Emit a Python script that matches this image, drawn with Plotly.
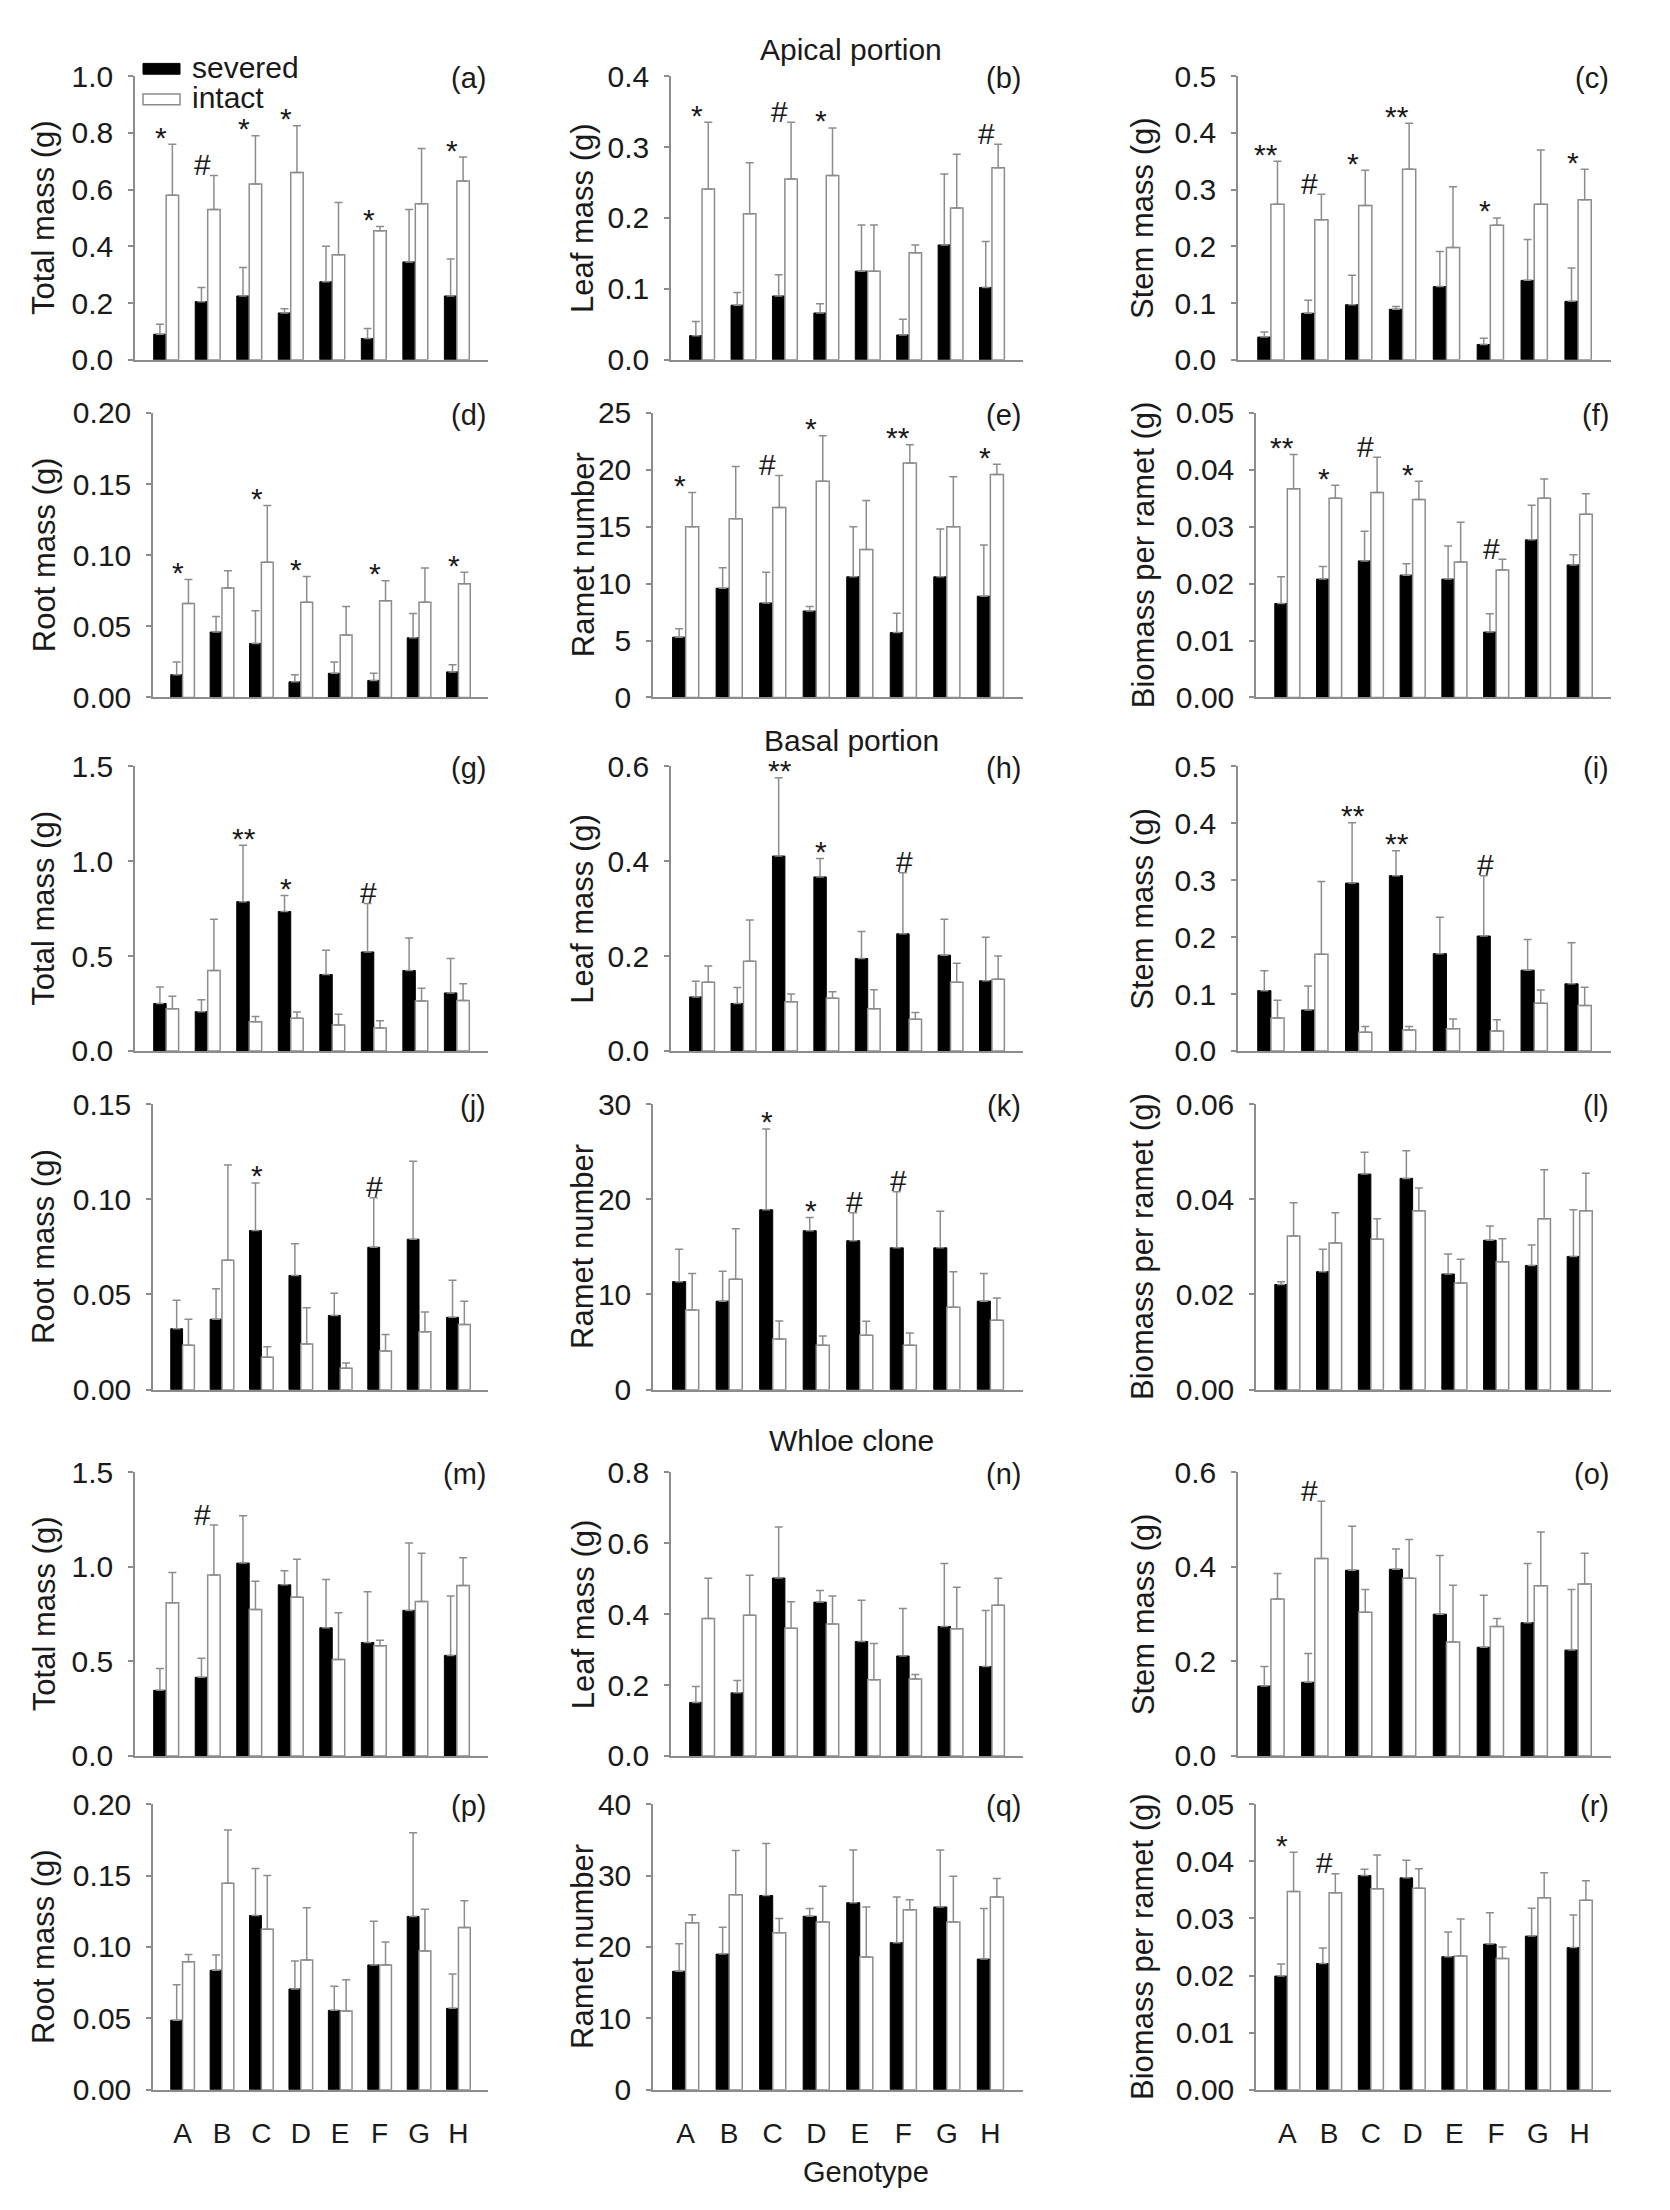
import plotly.graph_objects as go

W, H = 1670, 2210

genotypes = ["A", "B", "C", "D", "E", "F", "G", "H"]

# ---------- Apical portion ----------
a_sev = [0.09, 0.205, 0.225, 0.165, 0.275, 0.075, 0.345, 0.225]
a_sev_err = [0.035, 0.05, 0.10, 0.015, 0.125, 0.035, 0.185, 0.13]
a_int = [0.58, 0.53, 0.62, 0.66, 0.37, 0.455, 0.55, 0.63]
a_int_err = [0.18, 0.12, 0.17, 0.165, 0.185, 0.015, 0.195, 0.085]
a_sig = ["*", "#", "*", "*", "", "*", "", "*"]

b_sev = [0.034, 0.077, 0.09, 0.066, 0.125, 0.035, 0.162, 0.102]
b_sev_err = [0.02, 0.018, 0.03, 0.013, 0.065, 0.022, 0.1, 0.065]
b_int = [0.241, 0.206, 0.255, 0.26, 0.125, 0.151, 0.214, 0.271]
b_int_err = [0.094, 0.072, 0.08, 0.067, 0.065, 0.011, 0.076, 0.033]
b_sig = ["*", "", "#", "*", "", "", "", "#"]

c_sev = [0.040, 0.082, 0.097, 0.089, 0.129, 0.027, 0.14, 0.103]
c_sev_err = [0.009, 0.023, 0.052, 0.005, 0.062, 0.011, 0.072, 0.059]
c_int = [0.274, 0.247, 0.272, 0.336, 0.198, 0.237, 0.274, 0.282]
c_int_err = [0.076, 0.045, 0.062, 0.081, 0.107, 0.013, 0.096, 0.054]
c_sig = ["**", "#", "*", "**", "", "*", "", "*"]

d_sev = [0.016, 0.046, 0.038, 0.011, 0.017, 0.012, 0.042, 0.018]
d_sev_err = [0.009, 0.011, 0.023, 0.005, 0.008, 0.005, 0.017, 0.005]
d_int = [0.066, 0.077, 0.095, 0.067, 0.044, 0.068, 0.067, 0.080]
d_int_err = [0.017, 0.012, 0.04, 0.018, 0.02, 0.014, 0.024, 0.008]
d_sig = ["*", "", "*", "*", "", "*", "", "*"]

e_sev = [5.3, 9.6, 8.3, 7.6, 10.6, 5.7, 10.6, 8.9]
e_sev_err = [0.75, 1.8, 2.7, 0.4, 4.4, 1.7, 4.2, 4.5]
e_int = [15.0, 15.7, 16.7, 19.0, 13.0, 20.6, 15.0, 19.6]
e_int_err = [3.0, 4.6, 2.8, 4.0, 4.3, 1.6, 4.4, 0.9]
e_sig = ["*", "", "#", "*", "", "**", "", "*"]

f_sev = [0.0165, 0.0208, 0.024, 0.0215, 0.0208, 0.0115, 0.0277, 0.0233]
f_sev_err = [0.0047, 0.0022, 0.0052, 0.002, 0.0058, 0.0032, 0.0061, 0.0018]
f_int = [0.0367, 0.035, 0.036, 0.0348, 0.0238, 0.0224, 0.035, 0.0322]
f_int_err = [0.006, 0.0023, 0.0062, 0.0032, 0.007, 0.0019, 0.0034, 0.0036]
f_sig = ["**", "*", "#", "*", "", "#", "", ""]

# ---------- Basal portion ----------
g_sev = [0.25, 0.207, 0.787, 0.735, 0.403, 0.522, 0.424, 0.306]
g_sev_err = [0.087, 0.063, 0.298, 0.085, 0.128, 0.255, 0.171, 0.182]
g_int = [0.223, 0.424, 0.154, 0.173, 0.137, 0.121, 0.263, 0.266]
g_int_err = [0.066, 0.271, 0.028, 0.033, 0.057, 0.038, 0.067, 0.089]
g_sig = ["", "", "**", "*", "", "#", "", ""]

h_sev = [0.114, 0.1, 0.411, 0.367, 0.195, 0.247, 0.202, 0.148]
h_sev_err = [0.033, 0.034, 0.165, 0.039, 0.057, 0.129, 0.076, 0.092]
h_int = [0.145, 0.189, 0.104, 0.111, 0.089, 0.067, 0.145, 0.151]
h_int_err = [0.034, 0.087, 0.016, 0.014, 0.04, 0.014, 0.04, 0.049]
h_sig = ["", "", "**", "*", "", "#", "", ""]

i_sev = [0.106, 0.072, 0.295, 0.308, 0.171, 0.202, 0.142, 0.118]
i_sev_err = [0.035, 0.042, 0.106, 0.044, 0.064, 0.106, 0.054, 0.072]
i_int = [0.058, 0.17, 0.033, 0.037, 0.039, 0.035, 0.084, 0.080]
i_int_err = [0.031, 0.128, 0.01, 0.006, 0.017, 0.02, 0.023, 0.032]
i_sig = ["", "", "**", "**", "", "#", "", ""]

j_sev = [0.032, 0.037, 0.0836, 0.06, 0.039, 0.0748, 0.079, 0.038]
j_sev_err = [0.015, 0.016, 0.025, 0.0167, 0.0117, 0.026, 0.041, 0.0195]
j_int = [0.0234, 0.068, 0.017, 0.024, 0.0112, 0.0203, 0.0304, 0.0342]
j_int_err = [0.0136, 0.05, 0.0055, 0.019, 0.0028, 0.0087, 0.0104, 0.0122]
j_sig = ["", "", "*", "", "", "#", "", ""]

k_sev = [11.35, 9.3, 18.9, 16.7, 15.65, 14.9, 14.9, 9.3]
k_sev_err = [3.4, 3.15, 8.5, 1.4, 2.95, 5.9, 3.85, 2.9]
k_int = [8.36, 11.6, 5.33, 4.68, 5.71, 4.68, 8.67, 7.29]
k_int_err = [3.84, 5.3, 1.89, 0.96, 1.48, 1.27, 3.71, 2.34]
k_sig = ["", "", "*", "*", "#", "#", "", ""]

l_sev = [0.0221, 0.0248, 0.0453, 0.0444, 0.0243, 0.0314, 0.0261, 0.028]
l_sev_err = [0.0006, 0.0047, 0.0046, 0.0058, 0.0042, 0.003, 0.0043, 0.0098]
l_int = [0.0323, 0.0308, 0.0316, 0.0376, 0.0224, 0.0269, 0.0359, 0.0376]
l_int_err = [0.007, 0.0064, 0.0043, 0.0048, 0.005, 0.0048, 0.0103, 0.0079]
l_sig = ["", "", "", "", "", "", "", ""]

# ---------- Whole clone ----------
m_sev = [0.347, 0.416, 1.02, 0.905, 0.678, 0.6, 0.77, 0.532]
m_sev_err = [0.116, 0.101, 0.25, 0.075, 0.255, 0.269, 0.357, 0.314]
m_int = [0.81, 0.957, 0.775, 0.839, 0.51, 0.583, 0.817, 0.902]
m_int_err = [0.161, 0.264, 0.149, 0.201, 0.248, 0.029, 0.255, 0.147]
m_sig = ["", "#", "", "", "", "", "", ""]

n_sev = [0.151, 0.178, 0.502, 0.434, 0.323, 0.282, 0.365, 0.252]
n_sev_err = [0.045, 0.035, 0.144, 0.033, 0.116, 0.134, 0.178, 0.158]
n_int = [0.388, 0.397, 0.36, 0.372, 0.215, 0.217, 0.359, 0.425]
n_int_err = [0.113, 0.113, 0.075, 0.079, 0.102, 0.013, 0.117, 0.076]
n_sig = ["", "", "", "", "", "", "", ""]

o_sev = [0.148, 0.156, 0.393, 0.395, 0.3, 0.23, 0.282, 0.224]
o_sev_err = [0.041, 0.061, 0.093, 0.043, 0.124, 0.11, 0.125, 0.128]
o_int = [0.332, 0.418, 0.304, 0.376, 0.241, 0.274, 0.36, 0.364]
o_int_err = [0.054, 0.121, 0.048, 0.082, 0.12, 0.017, 0.114, 0.065]
o_sig = ["", "#", "", "", "", "", "", ""]

p_sev = [0.0487, 0.0837, 0.122, 0.0706, 0.0556, 0.0874, 0.1214, 0.057]
p_sev_err = [0.0249, 0.0106, 0.033, 0.0195, 0.0168, 0.0306, 0.0586, 0.024]
p_int = [0.0897, 0.1446, 0.1124, 0.0908, 0.0552, 0.0874, 0.0972, 0.1136]
p_int_err = [0.005, 0.0374, 0.0376, 0.0366, 0.0218, 0.016, 0.0292, 0.0188]
p_sig = ["", "", "", "", "", "", "", ""]

q_sev = [16.6, 19.0, 27.2, 24.3, 26.2, 20.6, 25.6, 18.3]
q_sev_err = [3.86, 3.76, 7.3, 1.1, 7.4, 6.4, 8.0, 7.1]
q_int = [23.4, 27.3, 22.0, 23.5, 18.6, 25.2, 23.5, 27.0]
q_int_err = [1.1, 6.2, 2.0, 5.0, 7.0, 1.4, 6.4, 2.6]
q_sig = ["", "", "", "", "", "", "", ""]

r_sev = [0.0199, 0.0221, 0.0375, 0.0371, 0.0233, 0.0255, 0.0269, 0.0249]
r_sev_err = [0.0021, 0.0027, 0.0011, 0.0031, 0.0043, 0.0055, 0.0049, 0.0057]
r_int = [0.0347, 0.0345, 0.0352, 0.0353, 0.0234, 0.023, 0.0336, 0.0332]
r_int_err = [0.0069, 0.0033, 0.0059, 0.0034, 0.0065, 0.002, 0.0044, 0.0034]
r_sig = ["*", "#", "", "", "", "", "", ""]

y_titles = ["Total mass (g)", "Leaf mass (g)", "Stem mass (g)",
            "Root mass (g)", "Ramet number", "Biomass per ramet (g)"] * 3
panel_letters = list("abcdefghijklmnopqr")
section_titles = ["Apical portion", "Basal portion", "Whloe clone"]

# ---------- table built from the arrays ----------
data = [
    (a_sev, a_sev_err, a_int, a_int_err, a_sig),
    (b_sev, b_sev_err, b_int, b_int_err, b_sig),
    (c_sev, c_sev_err, c_int, c_int_err, c_sig),
    (d_sev, d_sev_err, d_int, d_int_err, d_sig),
    (e_sev, e_sev_err, e_int, e_int_err, e_sig),
    (f_sev, f_sev_err, f_int, f_int_err, f_sig),
    (g_sev, g_sev_err, g_int, g_int_err, g_sig),
    (h_sev, h_sev_err, h_int, h_int_err, h_sig),
    (i_sev, i_sev_err, i_int, i_int_err, i_sig),
    (j_sev, j_sev_err, j_int, j_int_err, j_sig),
    (k_sev, k_sev_err, k_int, k_int_err, k_sig),
    (l_sev, l_sev_err, l_int, l_int_err, l_sig),
    (m_sev, m_sev_err, m_int, m_int_err, m_sig),
    (n_sev, n_sev_err, n_int, n_int_err, n_sig),
    (o_sev, o_sev_err, o_int, o_int_err, o_sig),
    (p_sev, p_sev_err, p_int, p_int_err, p_sig),
    (q_sev, q_sev_err, q_int, q_int_err, q_sig),
    (r_sev, r_sev_err, r_int, r_int_err, r_sig),
]

# axis settings (style): (ymax, dtick, tickformat)
axis_cfg = [
    (1.0, 0.2, ".1f"), (0.4, 0.1, ".1f"), (0.5, 0.1, ".1f"),
    (0.20, 0.05, ".2f"), (25, 5, "d"), (0.05, 0.01, ".2f"),
    (1.5, 0.5, ".1f"), (0.6, 0.2, ".1f"), (0.5, 0.1, ".1f"),
    (0.15, 0.05, ".2f"), (30, 10, "d"), (0.06, 0.02, ".2f"),
    (1.5, 0.5, ".1f"), (0.8, 0.2, ".1f"), (0.6, 0.2, ".1f"),
    (0.20, 0.05, ".2f"), (40, 10, "d"), (0.05, 0.01, ".2f"),
]

# layout in pixels: axis left moves with tick-label width, right edge fixed
col_left_3char = [127, 663, 1230]
col_right = [480, 1015, 1603]
char_w = 18
ytitle_x = [36, 575, 1135]
row_y = [(52, 340), (394, 683), (753, 1042), (1096, 1386), (1470, 1758), (1807, 2097)]
section_y = [25, 727, 1438]
section_x = 843

FONT = "Liberation Sans, Arial, sans-serif"
GRAY = "#8c8c8c"
TXT = "#1a1a1a"


def px(x):
    return x / W


def py(y):
    return 1 - y / H


def label_chars(ymax, fmt):
    return len(format(ymax, fmt if fmt != "d" else ".0f"))


fig = go.Figure()
annotations = []
shapes = []
layout = {}

for idx in range(18):
    row, col = divmod(idx, 3)
    n = idx + 1
    xa = "x" if n == 1 else f"x{n}"
    ya = "y" if n == 1 else f"y{n}"
    sev, sev_err, inte, inte_err, sig = data[idx]
    ymax, dtick, fmt = axis_cfg[idx]

    fig.add_trace(go.Bar(
        x=list(range(8)), y=sev, name="severed", xaxis=xa, yaxis=ya,
        marker=dict(color="black", line=dict(color="black", width=1)),
        error_y=dict(type="data", symmetric=False, array=sev_err,
                     arrayminus=[0] * 8, color=GRAY, thickness=1.5, width=4),
        showlegend=False, offsetgroup="sev",
    ))
    fig.add_trace(go.Bar(
        x=list(range(8)), y=inte, name="intact", xaxis=xa, yaxis=ya,
        marker=dict(color="white", line=dict(color=GRAY, width=1.5)),
        error_y=dict(type="data", symmetric=False, array=inte_err,
                     arrayminus=[0] * 8, color=GRAY, thickness=1.5, width=4),
        showlegend=False, offsetgroup="int",
    ))

    x0 = col_left_3char[col] + char_w * (label_chars(ymax, fmt) - 3)
    x1 = col_right[col]
    y0, y1 = row_y[row]
    bottom = row == 5
    layout["xaxis" if n == 1 else f"xaxis{n}"] = dict(
        domain=[px(x0), px(x1)], anchor=ya, range=[-0.75, 7.75],
        tickvals=list(range(8)), ticktext=genotypes,
        showticklabels=bottom, ticks="",
        ticklabelstandoff=18 if bottom else 0,
        tickfont=dict(family=FONT, size=28, color=TXT),
        showline=True, linecolor=GRAY, linewidth=2,
        showgrid=False, zeroline=False, fixedrange=True,
    )
    layout["yaxis" if n == 1 else f"yaxis{n}"] = dict(
        domain=[py(y1), py(y0)], anchor=xa, range=[0, ymax],
        dtick=dtick, tick0=0, tickformat=fmt,
        ticks="outside", ticklen=5, tickwidth=1.5, tickcolor=GRAY,
        ticklabelstandoff=9,
        tickfont=dict(family=FONT, size=30, color=TXT),
        showline=True, linecolor=GRAY, linewidth=1.5,
        showgrid=False, zeroline=False, fixedrange=True,
    )

    # y title at a fixed column position
    annotations.append(dict(
        text=y_titles[idx], x=px(ytitle_x[col]), y=py((y0 + y1) / 2),
        xref="paper", yref="paper", textangle=-90, showarrow=False,
        xanchor="center", yanchor="middle",
        font=dict(family=FONT, size=31, color=TXT),
    ))
    # panel letter
    annotations.append(dict(
        text=f"({panel_letters[idx]})", x=px(x1), y=py(y0),
        xref="paper", yref="paper", showarrow=False,
        xanchor="right", yanchor="middle", yshift=-2,
        font=dict(family=FONT, size=29, color=TXT),
    ))
    # significance marks
    for k in range(8):
        if sig[k]:
            top = max(sev[k] + sev_err[k], inte[k] + inte_err[k])
            annotations.append(dict(
                text=sig[k], x=k - 0.12, y=top, xref=xa, yref=ya,
                showarrow=False, xanchor="center", yanchor="middle",
                yshift=11 if sig[k] == "#" else 7,
                font=dict(family=FONT, size=30, color=TXT),
            ))

# section titles
for t, sy in zip(section_titles, section_y):
    annotations.append(dict(
        text=t, x=px(section_x), y=py(sy), xref="paper", yref="paper",
        showarrow=False, xanchor="center", yanchor="middle",
        font=dict(family=FONT, size=30, color=TXT),
    ))

# x title
annotations.append(dict(
    text="Genotype", x=px(858), y=py(2181), xref="paper", yref="paper",
    showarrow=False, xanchor="center", yanchor="middle",
    font=dict(family=FONT, size=29, color=TXT),
))

# legend drawn in panel (a)
shapes.append(dict(type="rect", xref="paper", yref="paper",
                   x0=px(135), x1=px(172), y0=py(50), y1=py(39),
                   fillcolor="black", line=dict(color="black", width=1)))
shapes.append(dict(type="rect", xref="paper", yref="paper",
                   x0=px(135), x1=px(172), y0=py(81), y1=py(70),
                   fillcolor="white", line=dict(color=GRAY, width=1.5)))
annotations.append(dict(text="severed", x=px(182), y=py(43), xref="paper", yref="paper",
                        showarrow=False, xanchor="left", yanchor="middle",
                        font=dict(family=FONT, size=30, color=TXT)))
annotations.append(dict(text="intact", x=px(182), y=py(74), xref="paper", yref="paper",
                        showarrow=False, xanchor="left", yanchor="middle",
                        font=dict(family=FONT, size=30, color=TXT)))

fig.update_layout(
    width=W, height=H, margin=dict(l=0, r=0, t=0, b=0),
    paper_bgcolor="white", plot_bgcolor="white",
    barmode="group", bargap=0.4, bargroupgap=0,
    annotations=annotations, shapes=shapes, showlegend=False,
    font=dict(family=FONT, size=30, color=TXT),
    **layout,
)

fig.write_html("out.html")
